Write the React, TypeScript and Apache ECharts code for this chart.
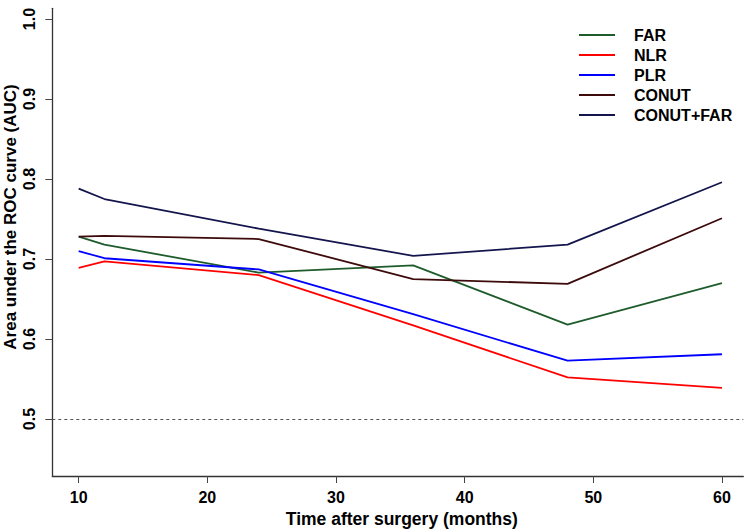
import React, { useEffect, useRef } from "react";
import * as echarts from "echarts";

const months = [10, 12, 24, 36, 48, 60];
const seriesNames = ["FAR", "NLR", "PLR", "CONUT", "CONUT+FAR"];
const farValues = [0.728, 0.718, 0.683, 0.692, 0.618, 0.670];
const nlrValues = [0.689, 0.697, 0.680, 0.617, 0.552, 0.539];
const plrValues = [0.710, 0.701, 0.687, 0.631, 0.573, 0.581];
const conutValues = [0.728, 0.729, 0.725, 0.675, 0.669, 0.751];
const conutFarValues = [0.788, 0.775, 0.738, 0.704, 0.718, 0.796];
const seriesColors = ["#1f5c2c", "#ff0000", "#0000ff", "#3d0b0b", "#15154d"];
const xTicks = [10, 20, 30, 40, 50, 60];
const yTicks = [0.5, 0.6, 0.7, 0.8, 0.9, 1.0];
const referenceAuc = 0.5;

const FONT = "'Liberation Sans', Arial, Helvetica, sans-serif";

export default function App() {
  const ref = useRef<HTMLDivElement>(null);

  useEffect(() => {
    if (!ref.current) return;
    const chart = echarts.init(ref.current, null, { renderer: "svg" });
    const allValues = [farValues, nlrValues, plrValues, conutValues, conutFarValues];
    const series: any[] = allValues.map((vals, i) => ({
      name: seriesNames[i],
      type: "line",
      data: months.map((m, j) => [m, vals[j]]),
      symbol: "none",
      showSymbol: false,
      lineStyle: { color: seriesColors[i], width: 1.8 },
      itemStyle: { color: seriesColors[i] },
      z: 3,
    }));
    series[0].markLine = {
      silent: true,
      symbol: "none",
      label: { show: false },
      lineStyle: { color: "#555", type: [3, 3], width: 1 },
      data: [{ yAxis: referenceAuc }],
    };

    chart.setOption({
      animation: false,
      backgroundColor: "#ffffff",
      grid: {
        left: 52.3,
        right: 6.7,
        top: 8.3,
        bottom: 56,
        containLabel: false,
        outerBoundsMode: "none",
      },
      xAxis: {
        type: "value",
        min: 7.95,
        max: 61.66,
        name: "Time after surgery (months)",
        nameLocation: "middle",
        nameGap: 31,
        nameTextStyle: {
          fontFamily: FONT,
          fontWeight: "bold",
          fontSize: 17.5,
          color: "#000",
          padding: [0, 0, 0, 8],
        },
        axisLine: { show: true, lineStyle: { color: "#333", width: 1.3 } },
        axisTick: {
          show: true,
          length: 7,
          customValues: xTicks,
          lineStyle: { color: "#444", width: 1 },
        },
        axisLabel: {
          customValues: xTicks,
          margin: 13,
          fontFamily: FONT,
          fontWeight: "bold",
          fontSize: 16,
          color: "#000",
        },
        splitLine: { show: false },
      },
      yAxis: {
        type: "value",
        min: 0.4288,
        max: 1.0134,
        axisLine: { show: true, lineStyle: { color: "#333", width: 1.3 } },
        axisTick: {
          show: true,
          length: 7,
          customValues: yTicks,
          lineStyle: { color: "#444", width: 1 },
        },
        axisLabel: {
          customValues: yTicks,
          rotate: 90,
          margin: 15,
          fontFamily: FONT,
          fontWeight: "bold",
          fontSize: 16,
          color: "#000",
          formatter: (v: number) => v.toFixed(1),
        },
        splitLine: { show: false },
      },
      legend: {
        data: seriesNames,
        orient: "vertical",
        left: 574,
        top: 20,
        icon: "rect",
        itemWidth: 36,
        itemHeight: 2,
        itemGap: 0,
        textStyle: {
          fontFamily: FONT,
          fontWeight: "bold",
          fontSize: 16,
          color: "#000",
          lineHeight: 20,
          padding: [0, 0, 0, 14],
        },
      },
      graphic: [
        {
          type: "text",
          x: 10.5,
          y: 217,
          rotation: Math.PI / 2,
          style: {
            text: "Area under the ROC curve (AUC)",
            fontFamily: FONT,
            fontWeight: "bold",
            fontSize: 17,
            fill: "#000",
            textAlign: "center",
            textVerticalAlign: "middle",
          },
        },
      ],
      series,
    });
    return () => chart.dispose();
  }, []);

  return (
    <div
      ref={ref}
      style={{ position: "absolute", left: 0, top: 0, width: 750, height: 532 }}
    />
  );
}
